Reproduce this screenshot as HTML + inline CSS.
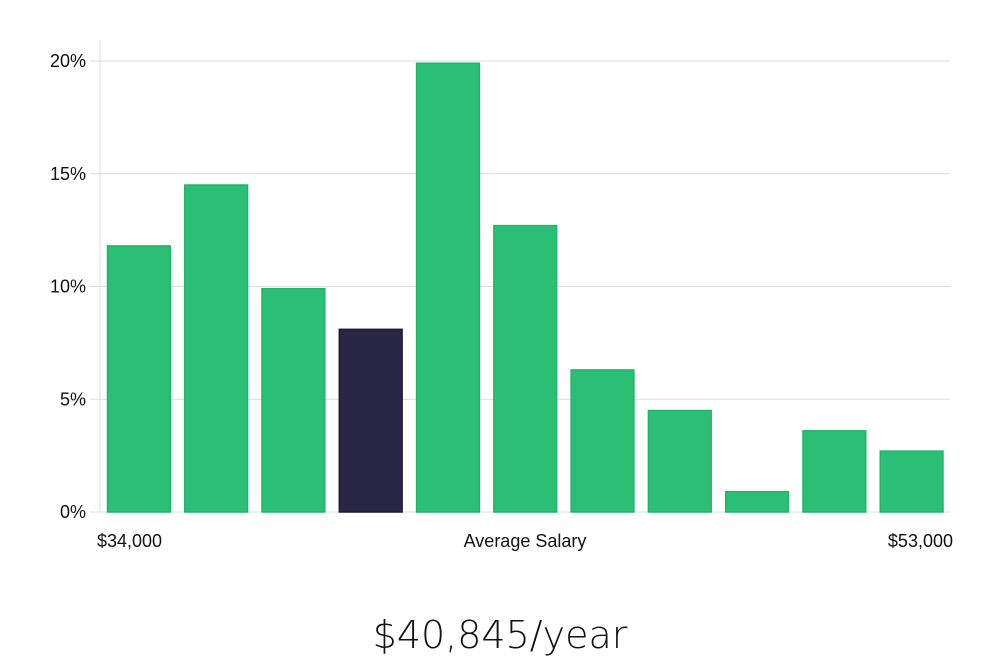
<!DOCTYPE html>
<html><head><meta charset="utf-8"><style>
body{margin:0;background:#fff;width:1000px;height:660px;overflow:hidden;font-family:"Liberation Sans","DejaVu Sans",sans-serif}
svg{display:block}
</style></head><body>
<svg id="chart" width="1000" height="660">
<g id="grid"></g><g id="bars"></g><g id="yticks"></g>
<line x1="100" y1="40" x2="100" y2="512" stroke="#dcdcdc" stroke-width="1"/>
<text x="97" y="547" font-size="18" fill="#111">$34,000</text>
<text x="525" y="547" font-size="18" fill="#111" text-anchor="middle">Average Salary</text>
<text x="953" y="547" font-size="18" fill="#111" text-anchor="end">$53,000</text>
<text x="500" y="648" font-size="38" fill="#111" text-anchor="middle" font-family="'DejaVu Sans','Liberation Sans',sans-serif" font-weight="300">$40,845/year</text>
</svg>
<script>
const values=[11.8,14.5,9.9,8.1,19.9,12.7,6.3,4.5,0.9,3.6,2.7];
const highlightIndex=3;
const yTicks=[0,5,10,15,20];
const yTickLabels=["0%","5%","10%","15%","20%"];
const NS="http://www.w3.org/2000/svg";
const x0=100,x1=950,yBase=512,yTop=61,yMax=20;
const y=v=>yBase-(v/yMax)*(yBase-yTop);
const band=(x1-x0)/values.length;
const x=i=>x0+i*band;
const grid=document.getElementById('grid'),bars=document.getElementById('bars'),yt=document.getElementById('yticks');
yTicks.forEach((t,i)=>{
 const l=document.createElementNS(NS,'line');
 
 
 l.setAttribute('x1',x0-10);l.setAttribute('x2',x1);l.setAttribute('y1',y(t));l.setAttribute('y2',y(t));
 l.setAttribute('stroke','#dcdcdc');l.setAttribute('stroke-width','1');
 grid.appendChild(l);
 const tx=document.createElementNS(NS,'text');
 
 
 tx.setAttribute('x',86);tx.setAttribute('y',y(t)+6);tx.setAttribute('text-anchor','end');
 tx.setAttribute('font-size','18');tx.setAttribute('fill','#111');
 tx.textContent=yTickLabels[i];yt.appendChild(tx);
});
values.forEach((v,i)=>{
 const r=document.createElementNS(NS,'rect');
 
 
 const hi=i===highlightIndex;
 r.setAttribute('x',x(i)+7.5);r.setAttribute('width',band-14.5);
 r.setAttribute('y',y(v));r.setAttribute('height',yBase-y(v));
 r.setAttribute('fill',hi?'#2a2646':'#2bbf76');
 r.setAttribute('stroke',hi?'#1b1838':'#1fb56a');r.setAttribute('stroke-width','1.5');
 bars.appendChild(r);
});
</script>
</body></html>
